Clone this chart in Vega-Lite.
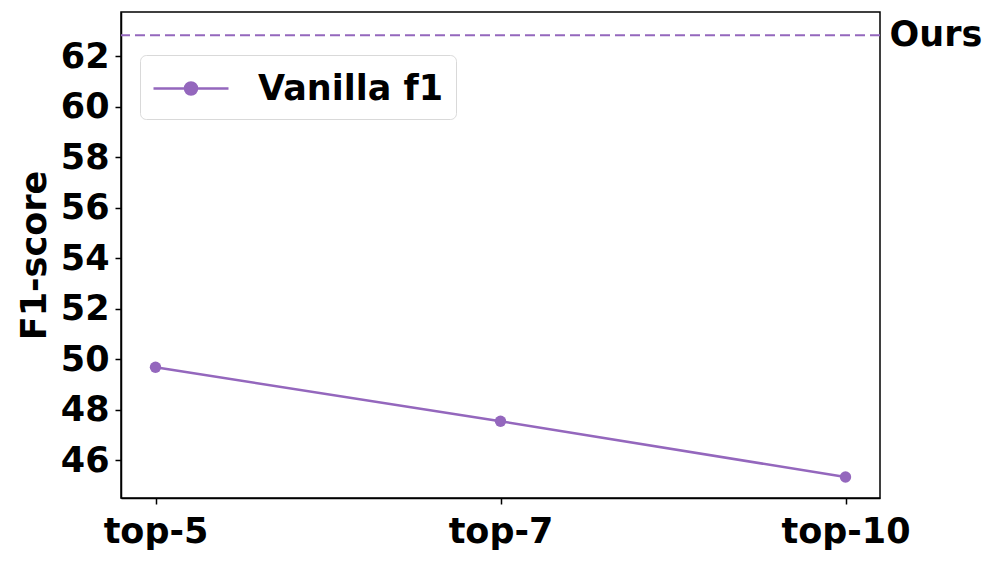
{
  "$schema": "https://vega.github.io/schema/vega-lite/v6.json",
  "width": 759,
  "height": 486,
  "autosize": "none",
  "padding": {"left": 121, "top": 12, "right": 117, "bottom": 63},
  "background": "white",
  "config": {
    "font": "DejaVu Sans",
    "view": {"stroke": "black", "strokeWidth": 1.5},
    "axis": {
      "domainColor": "black",
      "domainWidth": 1.5,
      "tickColor": "black",
      "tickWidth": 1.5,
      "tickSize": 6,
      "grid": false,
      "labelColor": "black",
      "labelFont": "DejaVu Sans",
      "labelFontWeight": "bold",
      "labelFontSize": 35,
      "titleColor": "black",
      "titleFont": "DejaVu Sans",
      "titleFontWeight": "bold",
      "titleFontSize": 35
    }
  },
  "datasets": {
    "vanilla": [
      {"k": "top-5", "f1": 49.68, "series": "Vanilla f1"},
      {"k": "top-7", "f1": 47.54, "series": "Vanilla f1"},
      {"k": "top-10", "f1": 45.33, "series": "Vanilla f1"}
    ],
    "ours": [
      {"name": "Ours", "f1": 62.83}
    ]
  },
  "layer": [
    {
      "data": {"name": "ours"},
      "mark": {"type": "rule", "color": "#9467bd", "strokeWidth": 2, "strokeDash": [10, 5]},
      "encoding": {
        "y": {"field": "f1", "type": "quantitative"}
      }
    },
    {
      "data": {"name": "ours"},
      "mark": {"type": "text", "align": "left", "baseline": "middle", "dx": 44, "fontSize": 35, "fontWeight": "bold", "color": "black"},
      "encoding": {
        "x": {"datum": "top-10", "type": "ordinal"},
        "y": {"field": "f1", "type": "quantitative"},
        "text": {"field": "name"}
      }
    },
    {
      "data": {"name": "vanilla"},
      "mark": {"type": "line", "strokeWidth": 2.5, "point": {"filled": true, "size": 130, "opacity": 1}},
      "encoding": {
        "x": {
          "field": "k",
          "type": "ordinal",
          "sort": ["top-5", "top-7", "top-10"],
          "scale": {"type": "point", "padding": 0.1},
          "axis": {"title": null, "labelAngle": 0, "labelAlign": "center", "labelBaseline": "top", "labelPadding": 10}
        },
        "y": {
          "field": "f1",
          "type": "quantitative",
          "scale": {"domain": [44.5, 63.75], "nice": false, "zero": false},
          "axis": {"title": "F1-score", "values": [46, 48, 50, 52, 54, 56, 58, 60, 62], "labelPadding": 6, "titlePadding": 8}
        },
        "color": {
          "field": "series",
          "type": "nominal",
          "scale": {"domain": ["Vanilla f1"], "range": ["#9467bd"]},
          "legend": {
            "title": null,
            "orient": "none",
            "legendX": 19,
            "legendY": 43,
            "fillColor": "white",
            "strokeColor": "#d9d9d9",
            "cornerRadius": 6,
            "padding": 12,
            "symbolType": "M-1,0H2.75M0.575,0A0.3,0.3,0,1,1,1.175,0A0.3,0.3,0,1,1,0.575,0Z",
            "symbolSize": 1600,
            "symbolStrokeWidth": 2.5,
            "symbolFillColor": "#9467bd",
            "symbolStrokeColor": "#9467bd",
            "labelFontSize": 35,
            "labelFontWeight": "bold",
            "labelColor": "black",
            "labelFont": "DejaVu Sans",
            "labelOffset": 63,
            "labelLimit": 0
          }
        }
      }
    }
  ]
}
